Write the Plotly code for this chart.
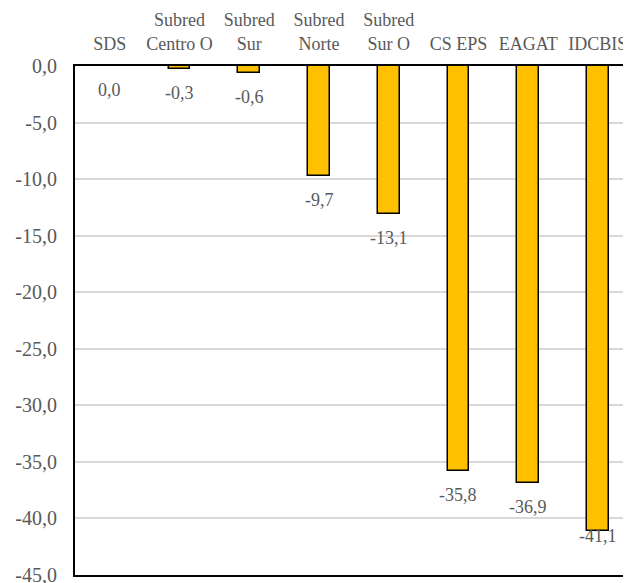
import plotly.graph_objects as go

categories = ["SDS", "Subred<br>Centro O", "Subred<br>Sur", "Subred<br>Norte", "Subred<br>Sur O", "CS EPS", "EAGAT", "IDCBIS"]
values = [0.0, -0.3, -0.6, -9.7, -13.1, -35.8, -36.9, -41.1]
tick_vals = [0, -5, -10, -15, -20, -25, -30, -35, -40, -45]
tick_text = ["0,0", "-5,0", "-10,0", "-15,0", "-20,0", "-25,0", "-30,0", "-35,0", "-40,0", "-45,0"]

labels = [f"{v:.1f}".replace(".", ",") for v in values]
xs = list(range(len(categories)))

fig = go.Figure()
fig.add_trace(go.Bar(
    x=xs,
    y=values,
    width=0.31,
    marker=dict(color="#FFC000", line=dict(color="black", width=1.5)),
    hoverinfo="skip",
))

for x, v, t in zip(xs, values, labels):
    # Excel pulls the label inside the plot when there is no room below
    shift = -24 if v > -40 else -5
    fig.add_annotation(
        x=x, y=v, text=t, showarrow=False,
        xref="x", yref="y", yanchor="middle", yshift=shift,
        font=dict(family="Liberation Serif", size=18, color="#595959"),
    )

fig.update_layout(
    width=631, height=583,
    margin=dict(l=67, r=0, t=58, b=16),
    plot_bgcolor="white", paper_bgcolor="white",
    showlegend=False,
    font=dict(family="Liberation Serif", color="#595959"),
    bargap=0,
)
fig.update_xaxes(
    side="top",
    tickmode="array",
    tickvals=xs,
    ticktext=categories,
    range=[-0.5, 7.59],
    automargin=False,
    showline=True, linecolor="black", linewidth=2, mirror=True,
    showgrid=False, ticks="",
    ticklabelstandoff=7,
    tickfont=dict(family="Liberation Serif", size=18, color="#595959"),
)
fig.update_yaxes(
    range=[-45, 0],
    automargin=False,
    tickmode="array",
    tickvals=tick_vals,
    ticktext=tick_text,
    showline=True, linecolor="black", linewidth=2,
    showgrid=True, gridcolor="#D9D9D9", gridwidth=1.5,
    zeroline=False,
    ticks="",
    ticklabelstandoff=12,
    tickfont=dict(family="Liberation Serif", size=20, color="#595959"),
)

fig.write_html("out.html")
